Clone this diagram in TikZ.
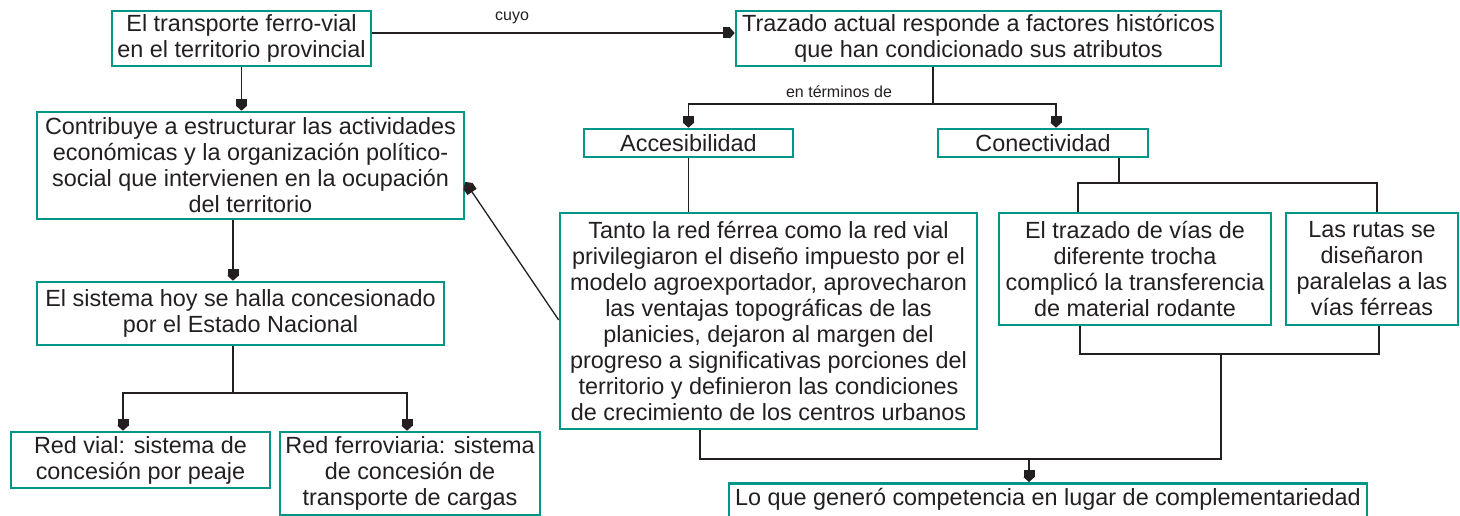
\documentclass[tikz,border=0pt]{standalone}
\usepackage{fontspec}
\setmainfont{Liberation Sans}
\usetikzlibrary{arrows.meta}
\definecolor{tealbox}{RGB}{0,150,136}
\definecolor{lncol}{RGB}{35,31,32}
\begin{document}
\begin{tikzpicture}[x=1pt,y=-1pt,
 box/.style={draw=tealbox,line width=2.6pt,align=center,inner sep=0pt,
   font=\fontsize{23.4}{26}\selectfont,text=lncol},
 conn/.style={draw=lncol,line width=1.3pt},
 arr/.style={conn,-{Square[length=7pt,width=11pt,sep=0pt]Triangle[length=5pt,width=11pt]}},
 lab/.style={font=\fontsize{16}{18}\selectfont,inner sep=0pt,text=lncol}]
\useasboundingbox (0,0) rectangle (1460,516);
\clip (0,0) rectangle (1460,516);

\node[box,minimum width=259,minimum height=55] (b1) at (241.5,38.5)
  {El transporte ferro-vial\\en el territorio provincial};
\node[box,minimum width=427,minimum height=107] (b2) at (250.5,165.5)
  {Contribuye a estructurar las actividades\\económicas y la organización político-\\social que intervienen en la ocupación\\del territorio};
\node[box,minimum width=485,minimum height=55] (b3) at (978.5,38.5)
  {Trazado actual responde a factores históricos\\que han condicionado sus atributos};
\node[box,minimum width=209,minimum height=28] (acc) at (688.5,143) {Accesibilidad};
\node[box,minimum width=210,minimum height=28] (con) at (1043,143) {Conectividad};
\node[box,minimum width=417,minimum height=216] (tanto) at (768.5,321)
  {Tanto la red férrea como la red vial\\privilegiaron el diseño impuesto por el\\modelo agroexportador, aprovecharon\\las ventajas topográficas de las\\planicies, dejaron al margen del\\progreso a significativas porciones del\\territorio y definieron las condiciones\\de crecimiento de los centros urbanos};
\node[box,minimum width=272,minimum height=112] (traz) at (1135,269)
  {El trazado de vías de\\diferente trocha\\complicó la transferencia\\de material rodante};
\node[box,minimum width=172,minimum height=112] (rutas) at (1372,269)
  {Las rutas se\\diseñaron\\paralelas a las\\vías férreas};
\node[box,minimum width=407,minimum height=63] (sist) at (240.5,313.5)
  {El sistema hoy se halla concesionado\\por el Estado Nacional};
\node[box,minimum width=259,minimum height=56] (rv) at (140.5,460)
  {Red vial: sistema de\\concesión por peaje};
\node[box,minimum width=260,minimum height=83] (rf) at (410,473.5)
  {Red ferroviaria: sistema\\de concesión de\\transporte de cargas};
\node[box,anchor=north,minimum width=638,inner ysep=4pt,text height=18pt,text depth=26pt] (lq) at (1048,482)
  {Lo que generó competencia en lugar de complementariedad};

\node[lab] (lcuyo) at (512,18) {cuyo};
\node[lab] (lterm) at (839,92) {en términos de};

\coordinate (j1) at (933,104);
\coordinate (j2) at (1119,183);
\coordinate (j3) at (1221,354);
\coordinate (j4) at (1221,459);
\coordinate (j5) at (1029,459);
\coordinate (j6) at (233,393);

\draw[arr] (b1.south) -- (b1.south |- b2.north);
\draw[arr] ([yshift=5.5pt]b1.east) -- ([yshift=5.5pt]b1.east -| b3.west);
\draw[conn] ([xshift=-45.5pt]b3.south) -- (j1);
\draw[arr] (j1) -| (acc.north);
\draw[arr] (j1) -| ([xshift=13pt]con.north);
\draw[conn] (acc.south) -- (acc.south |- tanto.north);
\draw[conn] ([xshift=76pt]con.south) -- (j2);
\draw[conn] ([xshift=-57pt]traz.north) |- (j2) -| ([xshift=5pt]rutas.north);
\draw[conn] ([xshift=-55pt]traz.south) |- (j3) -| ([xshift=7pt]rutas.south);
\draw[conn] (j3) -- (j4) -| ([xshift=-68.5pt]tanto.south);
\draw[arr] (j5) -- (j5 |- lq.north);
\draw[arr] ([yshift=1pt]tanto.west) -- ([yshift=-16.5pt]b2.east);
\draw[arr] ([xshift=-17.5pt]b2.south) -- ([xshift=-7.5pt]sist.north);
\draw[conn] ([xshift=-7.5pt]sist.south) -- (j6);
\draw[arr] (j6) -| ([xshift=-17.5pt]rv.north);
\draw[arr] (j6) -| ([xshift=-3pt]rf.north);
\end{tikzpicture}
\end{document}
